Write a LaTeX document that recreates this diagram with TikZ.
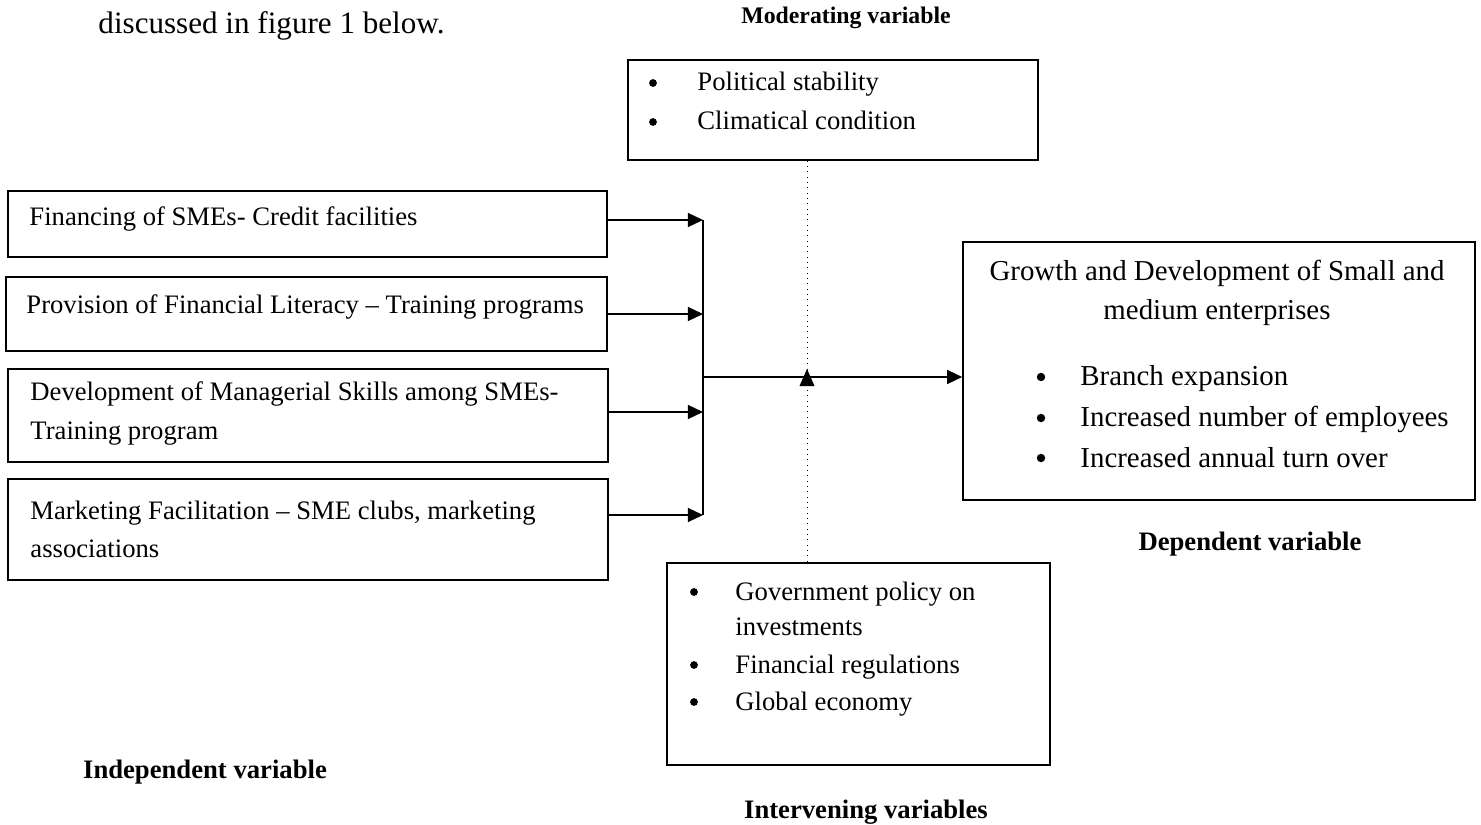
\documentclass[tikz,border=0pt]{standalone}
\usepackage{fontspec}
\setmainfont{Liberation Serif}
\usetikzlibrary{arrows.meta}
\begin{document}
\begin{tikzpicture}[x=0.45pt,y=-0.45pt,
  box/.style={draw,line width=0.7pt,inner sep=0pt},
  txt/.style={anchor=base west,inner sep=0pt,font=\fontsize{12}{14}\selectfont},
  rtxt/.style={anchor=base west,inner sep=0pt,font=\fontsize{13}{15}\selectfont},
  lbl/.style={anchor=base,inner sep=0pt,font=\fontsize{12}{14}\selectfont\bfseries},
  bul/.style={circle,fill,inner sep=0pt,minimum size=3.5pt},
  arr/.style={line width=0.7pt,-{Triangle[length=6.8pt,width=6.3pt]}},
  conn/.style={line width=0.7pt},
  mod/.style={dotted,line width=0.4pt}]
\useasboundingbox (0,0) rectangle (1481,825);

% heading text
\node[anchor=base west,inner sep=0pt,font=\fontsize{14}{16}\selectfont] (head) at (98,34) {discussed in figure 1 below.};

% labels
\node[lbl,font=\fontsize{10.7}{12}\selectfont\bfseries] (lmod) at (846,24) {Moderating variable};
\node[lbl] (lind) at (205,778) {Independent variable};
\node[lbl] (ldep) at (1250,550) {Dependent variable};
\node[lbl] (lint) at (866,818) {Intervening variables};

% independent boxes
\node[box,minimum width=269.55pt,minimum height=29.7pt] (b1) at (307.5,224) {};
\node[box,minimum width=270.45pt,minimum height=33.3pt] (b2) at (306.5,314) {};
\node[box,minimum width=270pt,minimum height=41.85pt] (b3) at (308,415.5) {};
\node[box,minimum width=270pt,minimum height=45.45pt] (b4) at (308,529.5) {};

\node[txt] (t1) at (29,226) {Financing of SMEs- Credit facilities};
\node[txt] (t2) at (26,313) {Provision of Financial Literacy -- Training programs};
\node[txt] (t3a) at (30,400) {Development of Managerial Skills among SMEs-};
\node[txt] (t3b) at (30,440) {Training program};
\node[txt] (t4a) at (30,519) {Marketing Facilitation -- SME clubs, marketing};
\node[txt] (t4b) at (30,557) {associations};

% moderating box
\node[box,minimum width=184.5pt,minimum height=45pt] (top) at (833,110) {};
\node[bul] (m1b) at (653,83) {};
\node[txt] (m1) at (697,91) {Political stability};
\node[bul] (m2b) at (653,122) {};
\node[txt] (m2) at (697,130) {Climatical condition};

% intervening box
\node[box,minimum width=172.35pt,minimum height=90.9pt] (bot) at (858.5,664) {};
\node[bul] (i1b) at (694,592) {};
\node[txt] (i1) at (735,600) {Government policy on};
\node[txt] (i1c) at (735,635) {investments};
\node[bul] (i2b) at (694,665) {};
\node[txt] (i2) at (735,673) {Financial regulations};
\node[bul] (i3b) at (694,702) {};
\node[txt] (i3) at (735,710) {Global economy};

% dependent box
\node[box,minimum width=230.4pt,minimum height=116.1pt] (dep) at (1219,371) {};
\node[rtxt,anchor=base] (d0) at (1217,281) {Growth and Development of Small and};
\node[rtxt,anchor=base] (d0b) at (1217,319) {medium enterprises};
\node[bul,minimum size=3.8pt] (d1b) at (1041,377) {};
\node[rtxt] (d1) at (1080,386) {Branch expansion};
\node[bul,minimum size=3.8pt] (d2b) at (1041,418) {};
\node[rtxt] (d2) at (1080,427) {Increased number of employees};
\node[bul,minimum size=3.8pt] (d3b) at (1041,458) {};
\node[rtxt] (d3) at (1080,467) {Increased annual turn over};

% junction coordinates
\coordinate (j1) at (703,220);
\coordinate (j2) at (703,314);
\coordinate (j3) at (703,412);
\coordinate (j4) at (703,515);
\coordinate (jm) at (703,377);
\coordinate (mx) at (807,377);

\draw[arr] (b1.east |- j1) -- (j1);
\draw[arr] (b2.east |- j2) -- (j2);
\draw[arr] (b3.east |- j3) -- (j3);
\draw[arr] (b4.east |- j4) -- (j4);
\draw[conn] (j1) -- (j4);
\draw[arr] (jm) -- (dep.west |- jm);

% moderating / intervening dotted link with upward tip
\draw[mod] (top.south -| mx) -- (bot.north -| mx);
\fill (807,369) -- (799.5,386) -- (814.5,386) -- cycle;
\end{tikzpicture}
\end{document}
